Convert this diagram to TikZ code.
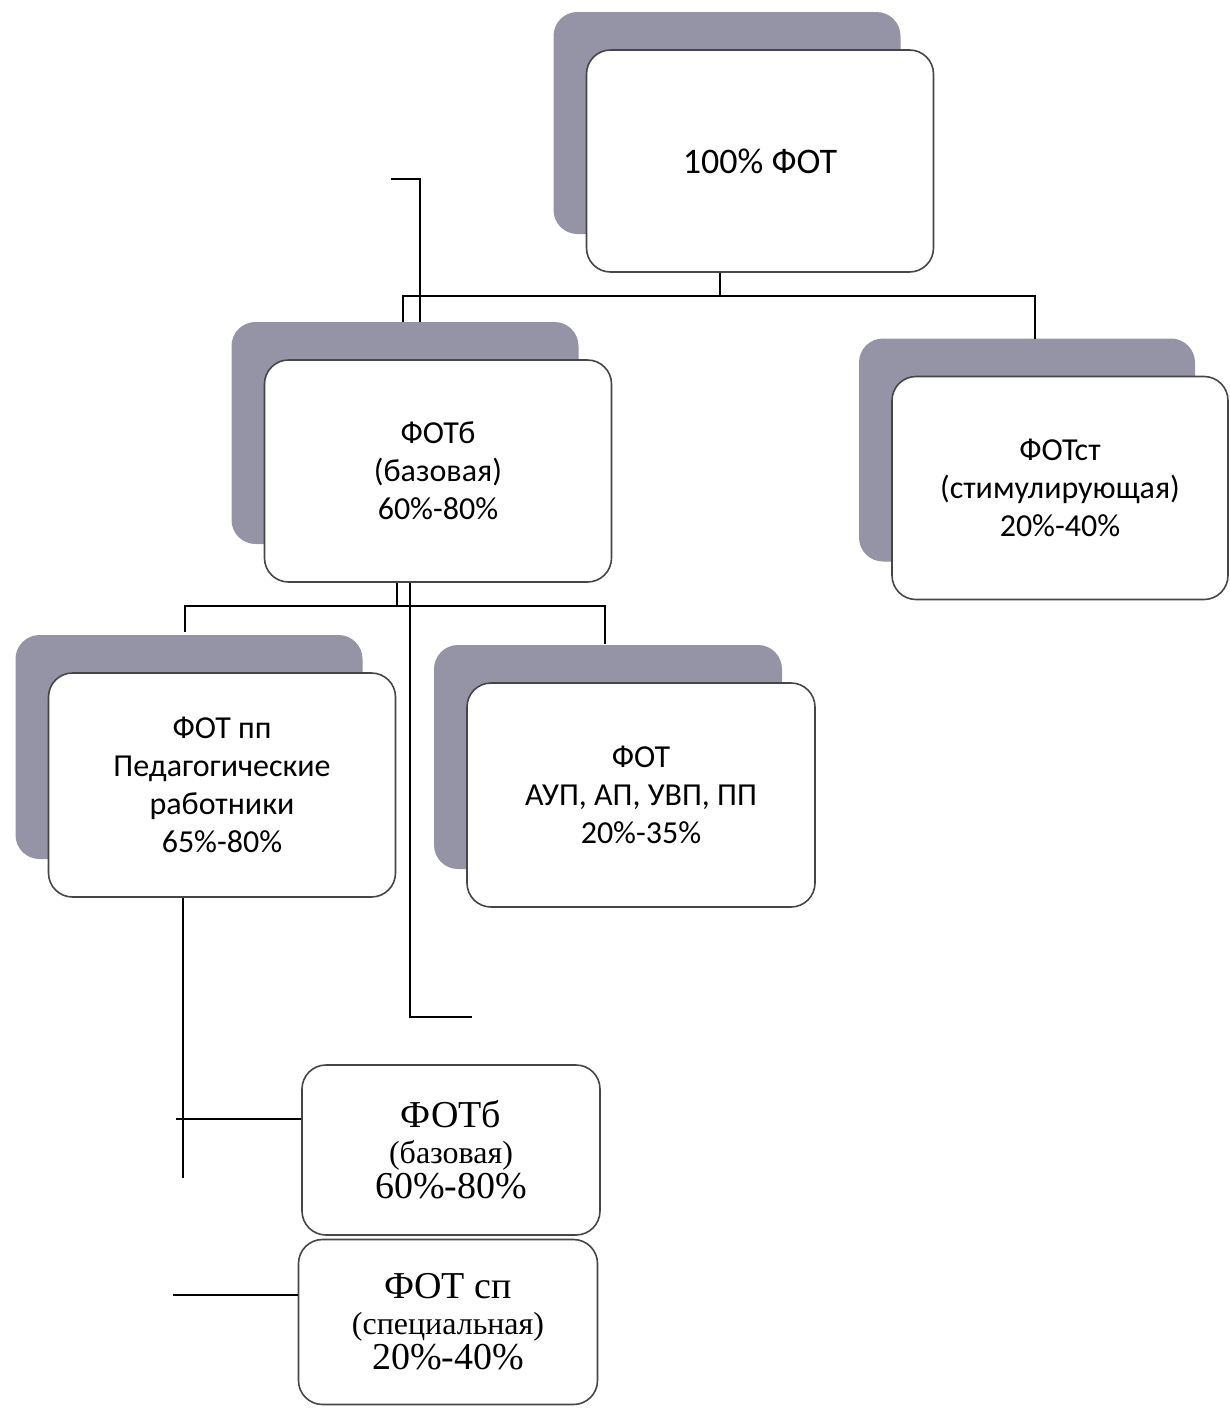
\documentclass[tikz,border=0pt]{standalone}
\usepackage{fontspec}
\setmainfont{Liberation Serif}
\newfontfamily\cardfont{Carlito}
\usepackage{xcolor}
\usepackage{tikz}
\definecolor{shadowgray}{RGB}{148,148,166}
\definecolor{edgegray}{RGB}{70,70,70}
\usetikzlibrary{shadows,calc}

\begin{document}
\begin{tikzpicture}[
    x=0.5pt, y=-0.5pt,
    card/.style={rectangle, draw=edgegray, line width=0.8pt, fill=white, rounded corners=12pt, align=center, inner sep=0pt, minimum width=173.5pt, minimum height=111pt, font=\cardfont\fontsize{16}{19}\selectfont, general shadow={fill=shadowgray, shadow xshift=-16.5pt, shadow yshift=19pt}},
    plaincard/.style={rectangle, draw=edgegray, line width=0.8pt, fill=white, rounded corners=12pt, align=center, inner sep=0pt, minimum width=149pt, minimum height=84pt, font=\fontsize{19}{17.8}\selectfont},
    link/.style={draw=black, line width=0.8pt}
]
\useasboundingbox (0,0) rectangle (1230,1408);

% Top level
\node[card] (top) at (760,161) {\fontsize{18}{21}\selectfont 100\% ФОТ};

% Second level
\node[card] (baseA) at (438,471) {ФОТб\\(базовая)\\60\%-80\%};
\node[card, minimum width=168pt, minimum height=111.5pt] (stim) at (1060,488) {ФОТст\\(стимулирующая)\\20\%-40\%};

% Third level
\node[card, minimum height=112pt] (ped) at (222,785) {ФОТ пп\\Педагогические\\работники\\65\%-80\%};
\node[card, minimum width=174pt, minimum height=112pt] (aup) at (641,795) {ФОТ\\АУП, АП, УВП, ПП\\20\%-35\%};

% Lower boxes
\node[plaincard, minimum height=85pt] (baseB) at (451,1150) {ФОТб\\{\fontsize{16}{17.8}\selectfont (базовая)}\\60\%-80\%};
\node[plaincard, minimum width=149.5pt, minimum height=82.5pt] (spec) at (448,1322) {ФОТ сп\\{\fontsize{16}{17.8}\selectfont (специальная)}\\20\%-40\%};

% Connectors
\coordinate (strayA) at (391,179);
\coordinate (strayB) at (472,1017);
\draw[link] ([xshift=-20pt]top.south) -- ++(0,23) coordinate (j1);
\draw[link] (j1) -| ([xshift=-17.5pt,yshift=18.5pt]baseA.north);
\draw[link] (j1) -| ([xshift=-12.5pt,yshift=18.5pt]stim.north);
\draw[link] (strayA) -| ([xshift=-9pt,yshift=18.5pt]baseA.north);
\draw[link] ([xshift=-20.5pt]baseA.south) -- ++(0,23) coordinate (j2);
\draw[link] (j2) -| ([xshift=-18.5pt,yshift=20pt]ped.north);
\draw[link] (j2) -| ([xshift=-18pt,yshift=19pt]aup.north);
\draw[link] ([xshift=-14pt]baseA.south) |- (strayB);
\draw[link] ([xshift=-19.5pt]ped.south) -- ++(0,280);
\draw[link] ([yshift=15.5pt]baseB.west) -- ++(-125,0);
\draw[link] ([yshift=13.5pt]spec.west) -- ++(-125,0);

\end{tikzpicture}
\end{document}
